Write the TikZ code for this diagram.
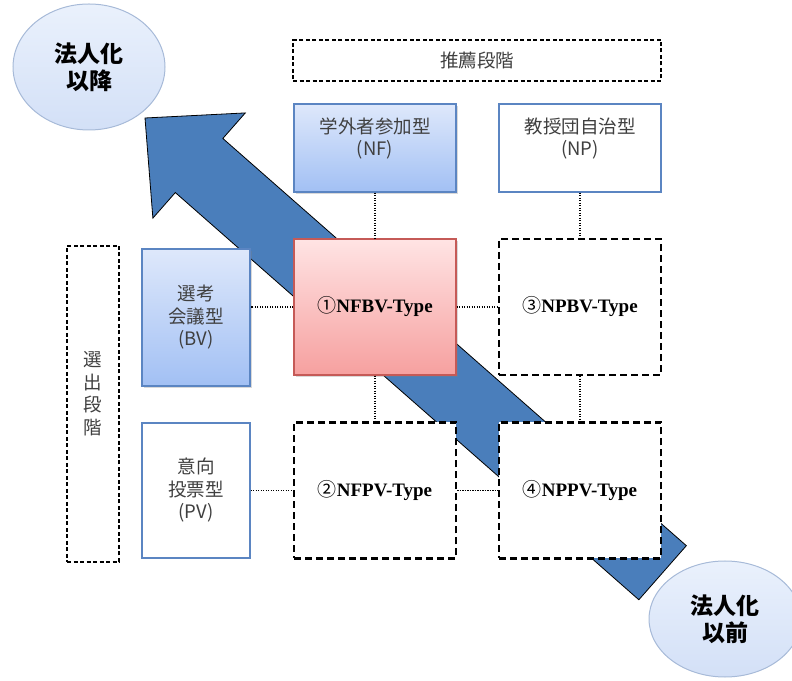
\documentclass[tikz,border=0pt]{standalone}
\usepackage{fontspec}
\setmainfont{Liberation Serif}
\newfontfamily\jpfont{Noto Sans CJK JP}
\usetikzlibrary{shapes.geometric,shadows}

\definecolor{textgray}{HTML}{3F3F3F}
\definecolor{boxblue}{HTML}{5B85C2}
\definecolor{bluetop}{HTML}{DEE8FB}
\definecolor{bluebottom}{HTML}{A2C0F4}
\definecolor{boxred}{HTML}{C55A57}
\definecolor{redtop}{HTML}{FFE4E4}
\definecolor{redbottom}{HTML}{F6A09F}
\definecolor{arrowblue}{HTML}{4A7EBB}
\definecolor{ovalline}{HTML}{A7BAD8}
\definecolor{ovaltop}{HTML}{EAF1FC}
\definecolor{ovalbottom}{HTML}{D3E0F7}

\tikzset{
  jp/.style={font=\jpfont\fontsize{18.5}{22.5}\selectfont, text=textgray, align=center},
  stagebox/.style={jp, draw=black, line width=1.2pt, dash pattern=on 4pt off 2.5pt},
  plainbox/.style={jp, draw=boxblue, line width=1.1pt, fill=white,
    minimum width=162pt, minimum height=88pt},
  bluebox/.style={plainbox, top color=bluetop, bottom color=bluebottom,
    drop shadow={shadow xshift=1.5pt, shadow yshift=-2pt, opacity=0.3}},
  typebox/.style={draw=black, line width=2.4pt, dash pattern=on 7pt off 4pt, fill=white,
    minimum width=162pt, minimum height=136pt,
    font=\bfseries\fontsize{19}{23}\selectfont},
  oval/.style={ellipse, draw=ovalline, line width=1pt, top color=ovaltop,
    bottom color=ovalbottom, minimum width=152pt, align=center,
    font=\jpfont\bfseries\fontsize{23}{27}\selectfont},
  conn/.style={line width=1.3pt, dash pattern=on 1.3pt off 1.2pt}
}

\newcommand{\circnum}[1]{{\jpfont\mdseries #1}}

\begin{document}
\begin{tikzpicture}[x=1pt, y=1pt]
  \useasboundingbox (0,0) rectangle (792,680);

  \begin{scope}[shift={(145,562)}, rotate=-41.3]
    \draw[fill=arrowblue, line width=0.8pt, line join=miter]
      (0,0) -- (72,70) -- (72,36) -- (689,36) -- (689,-36) -- (72,-36) -- (72,-70) -- cycle;
  \end{scope}

  \draw
    (477,619.5) node[stagebox, minimum width=368pt, minimum height=41pt] (recstage) {推薦段階}
    (93,276) node[stagebox, minimum width=52pt, minimum height=316pt] (selstage) {選\\出\\段\\階\\\mbox{}};

  \draw
    (375,532) node[bluebox] (nf) {学外者参加型\\(NF)\\\mbox{}}
    (580,532) node[plainbox] (np) {教授団自治型\\(NP)\\\mbox{}}
    (196,362.5) node[bluebox, minimum width=108pt, minimum height=137pt] (bv) {選考\\会議型\\(BV)}
    (196,189.5) node[plainbox, minimum width=108pt, minimum height=135pt] (pv) {意向\\投票型\\(PV)};

  \draw
    (375,373) node[typebox, draw=boxred, line width=1.2pt, solid,
      top color=redtop, bottom color=redbottom,
      drop shadow={shadow xshift=1.5pt, shadow yshift=-2pt, opacity=0.3}] (nfbv) {\circnum{①}NFBV-Type}
    (580,373) node[typebox] (npbv) {\circnum{③}NPBV-Type}
    (375,189.5) node[typebox] (nfpv) {\circnum{②}NFPV-Type}
    (580,189.5) node[typebox] (nppv) {\circnum{④}NPPV-Type};

  \begin{scope}[conn]
    \draw (nf) to (nfbv);
    \draw (np) to (npbv);
    \draw (nfbv) to (nfpv);
    \draw (npbv) to (nppv);
    \draw (nfbv) to (npbv);
    \draw (nfpv) to (nppv);
    \draw (nfbv.west) to (nfbv.west -| bv.east);
    \draw (pv) to (nfpv);
  \end{scope}

  \draw
    (89,613) node[oval, minimum height=126pt] (after) {法人化\\以降}
    (725,61) node[oval, minimum height=116pt] (before) {法人化\\以前};
\end{tikzpicture}
\end{document}
